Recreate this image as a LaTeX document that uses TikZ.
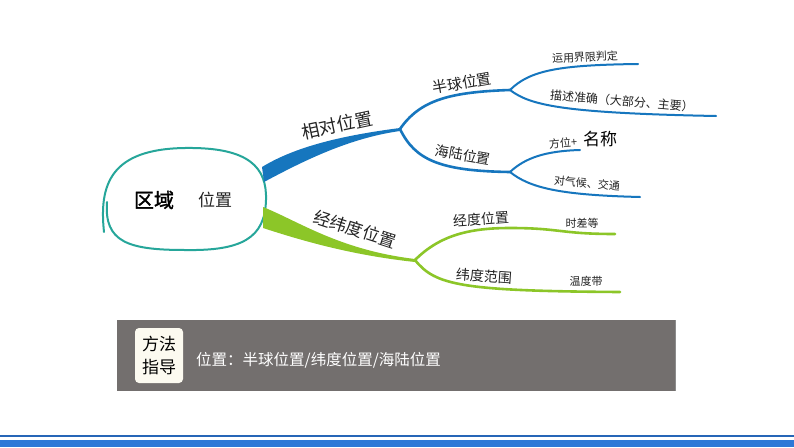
\documentclass[tikz,border=0pt]{standalone}
\usepackage{fontspec}
\setmainfont{Liberation Serif}
\newfontfamily\cjk{Noto Sans CJK SC}
\newfontfamily\cjkb[FakeBold=1.5]{Noto Sans CJK SC}
\definecolor{teal1}{RGB}{38,166,154}
\definecolor{blue1}{RGB}{22,118,190}
\definecolor{green1}{RGB}{140,198,40}
\definecolor{grey1}{RGB}{115,111,110}
\definecolor{ivory1}{RGB}{252,250,240}
\definecolor{ink}{RGB}{35,35,35}
\definecolor{band1}{RGB}{45,120,215}
\tikzset{
  lbl/.style={font=\cjk, text=ink, inner sep=0pt},
  bline/.style={draw=blue1, line width=2.6pt, line cap=round},
  gline/.style={draw=green1, line width=2.6pt, line cap=round},
}
\begin{document}
\begin{tikzpicture}[x=1pt,y=-1pt]
\fill[white] (0,0) rectangle (794,447);
\useasboundingbox (0,0) rectangle (794,447);

% central outline
\draw[teal1, line width=2pt, line cap=round]
  (104,232) .. controls (99,185) and (110,149) .. (185,148)
  .. controls (250,147) and (267,168) .. (266,200)
  .. controls (265,238) and (242,251) .. (185,250)
  .. controls (128,250) and (104,242) .. (107,202);

% thick blue band
\fill[blue1] (262,167) .. controls (290,150) and (330,137) .. (400,128)
  -- (400,131) .. controls (350,138) and (305,160) .. (264,182) -- cycle;
% thick green band
\fill[green1] (263,207) .. controls (300,222) and (340,250) .. (415,259)
  -- (415,262) .. controls (350,255) and (300,240) .. (263,228) -- cycle;

\coordinate (hubA) at (400,129);
\coordinate (hubB) at (415,260);
\coordinate (forkA) at (510,90);
\coordinate (forkB) at (510,172);
\coordinate (endA1) at (638,64);
\coordinate (endA2) at (716,116);
\coordinate (endB1) at (580,150);
\coordinate (endB2) at (640,197);
\coordinate (endC1) at (615,234);
\coordinate (endC2) at (620,292);

% blue branches
\draw[bline] (hubA) .. controls (420,100) and (450,92) .. (forkA);
\draw[bline, line width=2pt] (forkA) .. controls (530,70) and (560,65) .. (endA1);
\draw[bline, line width=2pt] (forkA) .. controls (530,105) and (560,113) .. (endA2);
\draw[bline] (hubA) .. controls (415,160) and (440,171) .. (forkB);
\draw[bline, line width=2pt] (forkB) .. controls (525,158) and (545,151) .. (endB1);
\draw[bline, line width=2pt] (forkB) .. controls (530,188) and (560,195) .. (endB2);

% green branches
\draw[gline] (hubB) .. controls (440,235) and (470,228) .. (510,228)
  .. controls (560,228) and (560,234) .. (endC1);
\draw[gline] (hubB) .. controls (435,285) and (460,291) .. (endC2);

% texts
\node[lbl, font=\cjkb\fontsize{20}{24}\selectfont, text=black] (quyu) at (154,200) {区域};
\node[lbl, font=\cjk\fontsize{17}{20}\selectfont] (weizhi) at (215,200) {位置};

\node[lbl, font=\cjk\fontsize{18}{22}\selectfont, rotate=12] (xiangdui) at (337,125) {相对位置};
\node[lbl, font=\cjk\fontsize{15}{18}\selectfont, rotate=10] (banqiu) at (462,83) {半球位置};
\node[lbl, font=\cjk\fontsize{11}{13}\selectfont, rotate=3] (yunyong) at (585,57) {运用界限判定};
\node[lbl, font=\cjk\fontsize{12}{14}\selectfont, rotate=-5] (miaoshu) at (622,101) {描述准确（大部分、主要）};
\node[lbl, font=\cjk\fontsize{14}{17}\selectfont, rotate=-10] (hailu) at (463,155) {海陆位置};
\node[lbl, font=\cjk\fontsize{11}{13}\selectfont, rotate=5] (fangwei) at (563,143) {方位+};
\node[lbl, font=\cjk\fontsize{17}{20}\selectfont, text=black] (mingcheng) at (600,139) {名称};
\node[lbl, font=\cjk\fontsize{11}{13}\selectfont, rotate=-5] (qihou) at (587,183) {对气候、交通};

\node[lbl, font=\cjk\fontsize{17}{20}\selectfont, rotate=-18] (jingwei) at (355,229) {经纬度位置};
\node[lbl, font=\cjk\fontsize{14}{17}\selectfont, rotate=4] (jingdu) at (481,219) {经度位置};
\node[lbl, font=\cjk\fontsize{11}{13}\selectfont] (shicha) at (582,223) {时差等};
\node[lbl, font=\cjk\fontsize{14}{17}\selectfont, rotate=-4] (weidu) at (484,276) {纬度范围};
\node[lbl, font=\cjk\fontsize{11}{13}\selectfont] (wendu) at (586,281) {温度带};

% method box
\fill[grey1] (117,320) rectangle (675,391);
\draw[black!45, line width=1pt] (675,320) -- (675,391);
\node[draw=none, fill=ivory1, rounded corners=4pt, minimum width=48pt, minimum height=55pt, inner sep=0pt] (fangfa) at (159,355.5) {};
\node[font=\cjk\fontsize{17}{23}\selectfont, text=black, align=center, inner sep=0pt] (fangfatxt) at (fangfa) {方法\\指导};
\node[font=\cjk\fontsize{15.5}{18}\selectfont, text=white, anchor=west, inner sep=0pt] (summary) at (196,360) {位置：半球位置/纬度位置/海陆位置};

% bottom bands
\fill[band1!85!black] (0,435.3) rectangle (794,437.2);
\fill[band1] (0,439.6) rectangle (794,447);
\end{tikzpicture}
\end{document}
